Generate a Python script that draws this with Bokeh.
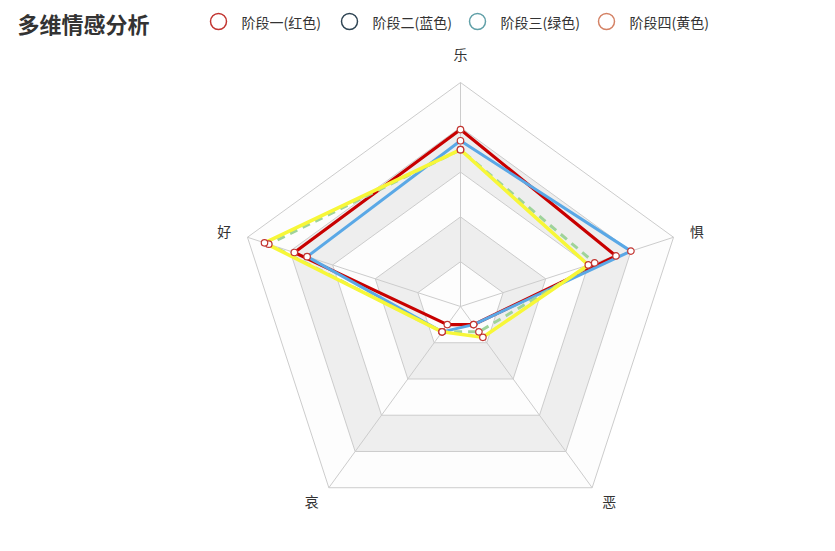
import numpy as np
from bokeh.plotting import figure
from bokeh.models import Range1d
from bokeh.core.properties import value
from bokeh.embed import file_html
from bokeh.resources import INLINE

# ---------------- data ----------------
title_text = "多维情感分析"
indicators = ["乐", "好", "哀", "恶", "惧"]          # counter-clockwise from top
max_value = 100
series_names = ["阶段一(红色)", "阶段二(蓝色)", "阶段三(绿色)", "阶段四(黄色)"]
red_vals = [79, 78, 10, 10, 73]
blue_vals = [74, 72, 14, 10, 80]
green_vals = [70, 90, 14, 14, 63]
yellow_vals = [70, 92, 14, 17, 60]
split_levels = [1.0, 0.8, 0.6, 0.4, 0.2]

# ---------------- styles ----------------
W, H = 835, 551
CX, CY = 460, 306          # radar centre in page pixels
R = 224                    # radar radius in pixels
legend_icon_colors = ["#c23531", "#2f4554", "#61a0a8", "#d48265"]
line_colors = ["#c80000", "#5aa8e6", "#9fd39a", "#f7f738"]
line_widths = [3.2, 3, 3, 3.5]
line_dashes = ["solid", "solid", "8 6", "solid"]
split_fills = ["#fdfdfd", "#eeeeee", "#fdfdfd", "#eeeeee", "#fdfdfd"]
FONT = "Noto Sans CJK SC"

p = figure(width=W, height=H, x_range=Range1d(-CX, W - CX), y_range=Range1d(-(H - CY), CY),
           x_axis_type=None, y_axis_type=None, toolbar_location=None, output_backend="svg",
           min_border=0, background_fill_color="white", border_fill_color="white")
p.grid.visible = False
p.outline_line_color = None

n = len(indicators)
angles = np.deg2rad(90 + 360.0 * np.arange(n) / n)
ux, uy = np.cos(angles), np.sin(angles)

# split areas and split lines
for lvl, fc in zip(split_levels, split_fills):
    xs = list(ux * R * lvl) + [ux[0] * R * lvl]
    ys = list(uy * R * lvl) + [uy[0] * R * lvl]
    p.patch(xs, ys, fill_color=fc, line_color="#cccccc", line_width=1)

# axis lines
for i in range(n):
    p.line([0, ux[i] * R], [0, uy[i] * R], line_color="#cccccc", line_width=1)

# indicator names
gap = 17
for i, name in enumerate(indicators):
    c, s = ux[i], uy[i]
    align = "left" if c > 0.01 else ("right" if c < -0.01 else "center")
    lx = c * (R + gap)
    ly = s * (R + gap)
    if s > 0.9:          # top
        base, ly = "bottom", ly + 2
    elif s < -0.5:       # bottom
        base, ly = "top", ly + 10
    else:                # sides
        base, ly = "middle", ly + 1.5
    p.text(x=[lx], y=[ly], text=[name],
           text_align=align, text_baseline=base, text_font=value(FONT),
           text_font_size="14px", text_color="#333333")

# series
all_vals = [red_vals, blue_vals, green_vals, yellow_vals]
for vals, col, lw, dash in zip(all_vals, line_colors, line_widths, line_dashes):
    r = np.array(vals, dtype=float) / max_value * R
    xs = list(ux * r) + [ux[0] * r[0]]
    ys = list(uy * r) + [uy[0] * r[0]]
    p.line(xs, ys, line_color=col, line_width=lw, line_dash=dash, line_join="round")
for vals in all_vals:
    r = np.array(vals, dtype=float) / max_value * R
    p.scatter(ux * r, uy * r, size=6.5, marker="circle", fill_color="white",
              line_color="#c23531", line_width=1.2)

# title
p.text(x=[17 - CX], y=[CY - 22], text=[title_text], text_align="left", text_baseline="middle",
       text_font=value(FONT), text_font_size="22px", text_font_style="bold", text_color="#333333")

# legend
leg_x = [218, 349, 477, 606]
for lx, name, col in zip(leg_x, series_names, legend_icon_colors):
    p.scatter([lx - CX], [CY - 21], size=16, marker="circle", fill_color="white",
              line_color=col, line_width=1.5)
    p.text(x=[lx + 23 - CX], y=[CY - 21], text=[name], text_align="left", text_baseline="middle",
           text_font=value(FONT), text_font_size="14px", text_color="#333333")

open("out.html", "w").write(file_html(p, INLINE))
